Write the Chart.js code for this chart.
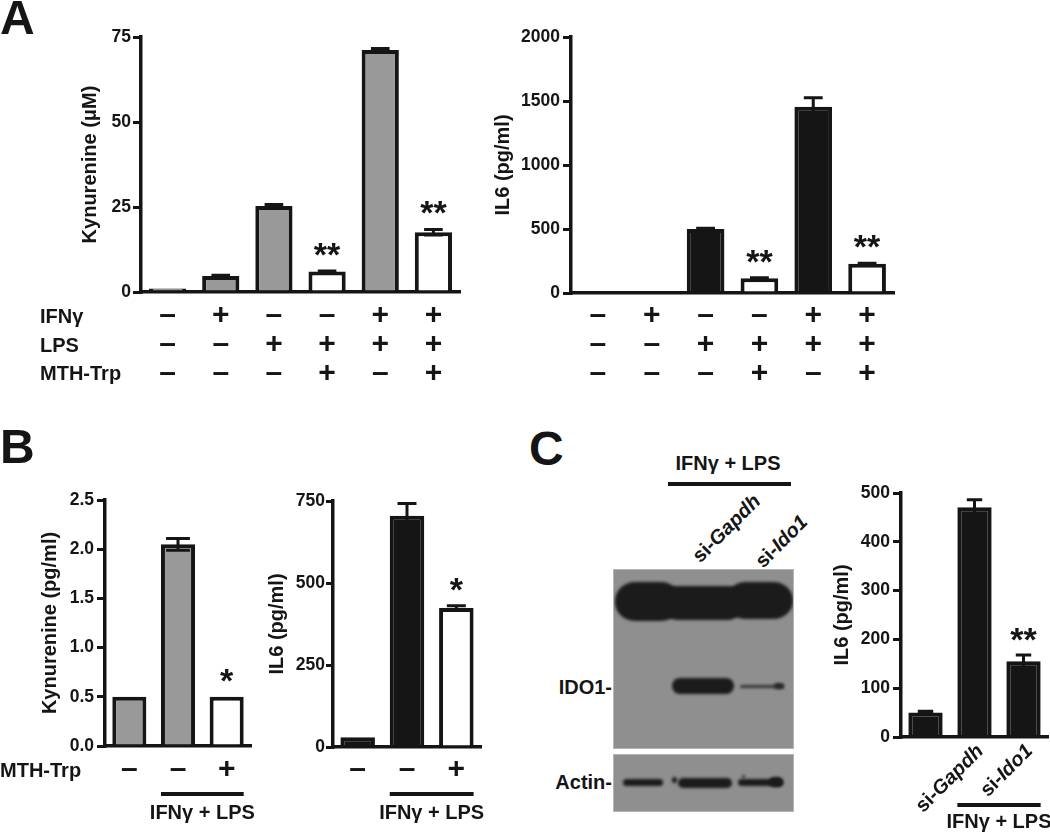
<!DOCTYPE html>
<html><head><meta charset="utf-8">
<script src="https://cdn.jsdelivr.net/npm/chart.js@4.4.1/dist/chart.umd.min.js"></script>
<style>
html,body{margin:0;padding:0;background:#fff}
body{width:1050px;height:837px;position:relative;overflow:hidden;font-family:"Liberation Sans",Arial,sans-serif;font-weight:bold;color:#151515}
canvas{position:absolute}
.t{position:absolute;white-space:nowrap;line-height:1}
.blot{position:absolute;background:#8f8f8f;box-shadow:0 0 0 1px #b5b5b5;overflow:hidden}
.band{position:absolute;background:#1b1b1b;filter:blur(1.4px)}
.hl{position:absolute;background:#151515}
</style></head><body>
<canvas id="a1"></canvas><canvas id="a2"></canvas>
<canvas id="b1"></canvas><canvas id="b2"></canvas>
<canvas id="c1"></canvas>
<div id="html"></div>
<script>
const INK = '#151515';
const GRAY = '#999999';
const WHITE = '#ffffff';

// ---- Panel A data ----
const kynA     = [1.0, 4.7, 25.3, 6.0, 71.2, 17.6];
const kynAErr  = [0, 0.2, 0.4, 0.2, 0.4, 0.8];
const il6A     = [0, 0, 500, 115, 1455, 228];
const il6AErr  = [0, 0, 5, 5, 70, 5];
const starsA   = ['', '', '', '**', '', '**'];
const ifnRow   = ['–', '+', '–', '–', '+', '+'];
const lpsRow   = ['–', '–', '+', '+', '+', '+'];
const mthRowA  = ['–', '–', '–', '+', '–', '+'];
const ticksKynA = [0, 25, 50, 75];
const ticksIl6A = [0, 500, 1000, 1500, 2000];

// ---- Panel B data ----
const kynB     = [0.5, 2.05, 0.5];
const kynBErr  = [0, 0.06, 0];
const il6B     = [30, 705, 424];
const il6BErr  = [0, 37, 7];
const starsB   = ['', '', '*'];
const mthRowB  = ['–', '–', '+'];
const ticksKynB = [0, 0.5, 1.0, 1.5, 2.0, 2.5];
const ticksIl6B = [0, 250, 500, 750];

// ---- Panel C data ----
const il6C     = [50, 471, 155];
const il6CErr  = [3, 15, 13];
const starsC   = ['', '', '**'];
const cLabels  = [['', ''], ['si-', 'Gapdh'], ['si-', 'Ido1']];
const ticksIl6C = [0, 100, 200, 300, 400, 500];
const groupLabel = 'IFNγ + LPS';

Chart.defaults.font.family = '"Liberation Sans", Arial, sans-serif';
Chart.defaults.color = INK;

const annot = {
  id: 'annot',
  afterDatasetsDraw(chart, args, o) {
    const ctx = chart.ctx, ys = chart.scales.y;
    const meta = chart.getDatasetMeta(0), data = chart.data.datasets[0].data;
    const err = o.err || [];
    const bottom = chart.chartArea.bottom;
    ctx.save();
    ctx.strokeStyle = INK; ctx.fillStyle = INK; ctx.lineWidth = 3;
    err.forEach((e, i) => {
      if (!e) return;
      const b = meta.data[i], hw = b.width * o.cap / 2;
      const yt = ys.getPixelForValue(data[i] + e), yb = ys.getPixelForValue(data[i] - e);
      ctx.beginPath();
      ctx.moveTo(b.x, yt); ctx.lineTo(b.x, yb);
      ctx.moveTo(b.x - hw, yt); ctx.lineTo(b.x + hw, yt);
      ctx.moveTo(b.x - hw, yb); ctx.lineTo(b.x + hw, yb);
      ctx.stroke();
    });
    ctx.font = 'bold 34px "Liberation Sans"'; ctx.textAlign = 'center'; ctx.textBaseline = 'alphabetic';
    (o.stars || []).forEach((s, i) => {
      if (!s) return;
      const b = meta.data[i];
      const top = ys.getPixelForValue(data[i] + (err[i] || 0));
      ctx.fillText(s, b.x, top - o.starGap);
    });
    if (o.bracket) {
      const br = o.bracket, a = meta.data[br.from], z = meta.data[br.to];
      const x1 = a.x - a.width / 2, x2 = z.x + z.width / 2;
      ctx.lineWidth = 4;
      ctx.beginPath(); ctx.moveTo(x1, bottom + br.lineY); ctx.lineTo(x2, bottom + br.lineY); ctx.stroke();
      ctx.font = 'bold 20px "Liberation Sans"'; ctx.textBaseline = 'middle'; ctx.textAlign = 'center';
      ctx.fillText(br.text, (x1 + x2) / 2, bottom + br.textY);
    }
    if (o.rot) {
      o.rot.forEach((parts, i) => {
        if (!parts[0] && !parts[1]) return;
        const b = meta.data[i];
        ctx.save();
        ctx.translate(b.x + o.rotDx, bottom + o.rotDy);
        ctx.rotate(-Math.PI / 4);
        ctx.textAlign = 'right'; ctx.textBaseline = 'alphabetic';
        ctx.font = 'italic bold 20px "Liberation Sans"';
        ctx.fillText(parts[1], 0, 0);
        const w = ctx.measureText(parts[1]).width;
        ctx.font = 'bold 20px "Liberation Sans"';
        ctx.fillText(parts[0], -w, 0);
        ctx.restore();
      });
    }
    ctx.restore();
  }
};

function makeChart(id, box, area, cfg) {
  const cv = document.getElementById(id);
  cv.width = box.w; cv.height = box.h;
  cv.style.left = box.l + 'px'; cv.style.top = box.t + 'px';
  const yW = area.L - box.l, xH = box.t + box.h - area.B;
  return new Chart(cv, {
    type: 'bar',
    data: {
      labels: cfg.labels,
      datasets: [{
        data: cfg.data, backgroundColor: cfg.colors, borderColor: INK, borderWidth: 4,
        borderSkipped: 'start', barPercentage: 0.7, categoryPercentage: 1
      }]
    },
    options: {
      responsive: false, animation: false, events: [],
      layout: { padding: { left: 0, top: area.T - box.t, right: box.l + box.w - area.R, bottom: 0 } },
      plugins: { legend: { display: false }, tooltip: { enabled: false }, annot: cfg.annot },
      scales: {
        x: {
          grid: { display: false, drawTicks: false },
          border: { display: true, color: INK, width: 3.5 },
          ticks: {
            display: cfg.xTicks !== false, color: INK,
            font: { size: 30, weight: 'bold', lineHeight: 29 / 30 },
            padding: cfg.xPad || 0, maxRotation: 0, minRotation: 0, autoSkip: false
          },
          afterFit: s => { s.height = xH; }
        },
        y: {
          min: cfg.ticks[0], max: cfg.ticks[cfg.ticks.length - 1],
          afterBuildTicks: s => { s.ticks = cfg.ticks.map(v => ({ value: v })); },
          grid: { display: true, drawOnChartArea: false, drawTicks: true, tickLength: cfg.tl, color: INK, lineWidth: 3 },
          border: { display: true, color: INK, width: 3.5 },
          ticks: { color: INK, font: { size: 17.5, weight: 'bold' }, padding: cfg.yPad, callback: cfg.fmt },
          title: { display: true, text: cfg.title, color: INK, font: { size: 20, weight: 'bold' },
                   padding: { top: Math.max(0, cfg.titleX - box.l - 12), bottom: 0 } },
          afterFit: s => { s.width = yW; }
        }
      }
    },
    plugins: [annot]
  });
}

const intFmt = v => String(v);
const rowsA = ifnRow.map((v, i) => [v, lpsRow[i], mthRowA[i]]);

makeChart('a1', { l: 30, t: 20, w: 450, h: 375 }, { L: 141, T: 37, R: 460, B: 292 }, {
  labels: rowsA, data: kynA,
  colors: [GRAY, GRAY, GRAY, WHITE, GRAY, WHITE],
  ticks: ticksKynA, fmt: intFmt, tl: 8, yPad: 2, xPad: 9.5,
  title: 'Kynurenine (μM)', titleX: 90,
  annot: { err: kynAErr, cap: 0.5, stars: starsA, starGap: 5 }
});
makeChart('a2', { l: 485, t: 20, w: 425, h: 375 }, { L: 571, T: 37, R: 894, B: 293 }, {
  labels: rowsA, data: il6A,
  colors: [INK, INK, INK, WHITE, INK, WHITE],
  ticks: ticksIl6A, fmt: intFmt, tl: 8, yPad: 3, xPad: 8.5,
  title: 'IL6 (pg/ml)', titleX: 503,
  annot: { err: il6AErr, cap: 0.5, stars: starsA, starGap: 5 }
});
makeChart('b1', { l: 0, t: 470, w: 265, h: 367 }, { L: 105, T: 500, R: 251, B: 746 }, {
  labels: mthRowB, data: kynB,
  colors: [GRAY, GRAY, WHITE],
  ticks: ticksKynB, fmt: v => v.toFixed(1), tl: 8, yPad: 3, xPad: 9.5,
  title: 'Kynurenine (pg/ml)', titleX: 50,
  annot: { err: kynBErr, cap: 0.7, stars: starsB, starGap: 5,
           bracket: { from: 1, to: 2, lineY: 48, textY: 67, text: groupLabel } }
});
makeChart('b2', { l: 265, t: 470, w: 225, h: 367 }, { L: 333, T: 501, R: 481, B: 747 }, {
  labels: mthRowB, data: il6B,
  colors: [INK, INK, WHITE],
  ticks: ticksIl6B, fmt: intFmt, tl: 7, yPad: 1, xPad: 8.5,
  title: 'IL6 (pg/ml)', titleX: 277,
  annot: { err: il6BErr, cap: 0.55, stars: starsB, starGap: 5,
           bracket: { from: 1, to: 2, lineY: 47, textY: 66, text: groupLabel } }
});
makeChart('c1', { l: 820, t: 460, w: 230, h: 377 }, { L: 901, T: 493, R: 1048, B: 737 }, {
  labels: cLabels.map(p => p.join('')), data: il6C, xTicks: false,
  colors: [INK, INK, INK],
  ticks: ticksIl6C, fmt: intFmt, tl: 8, yPad: 3,
  title: 'IL6 (pg/ml)', titleX: 842,
  annot: { err: il6CErr, cap: 0.45, stars: starsC, starGap: 4,
           rot: cLabels, rotDx: 10, rotDy: 15,
           bracket: { from: 1, to: 2, lineY: 68, textY: 85, text: groupLabel } }
});

// ---- HTML text and blot ----
const H = document.getElementById('html');
function txt(s, x, y, o = {}) {
  const d = document.createElement('div');
  d.className = 't';
  d.innerHTML = s;
  d.style.fontSize = (o.size || 20) + 'px';
  d.style.left = x + 'px'; d.style.top = y + 'px';
  const tx = o.align === 'center' ? '-50%' : o.align === 'right' ? '-100%' : '0';
  d.style.transform = `translate(${tx},-50%)` + (o.rot ? ` rotate(${o.rot}deg)` : '');
  H.appendChild(d);
}
function box(cls, l, t, w, h, extra) {
  const d = document.createElement('div');
  d.className = cls;
  Object.assign(d.style, { left: l + 'px', top: t + 'px', width: w + 'px', height: h + 'px' }, extra || {});
  H.appendChild(d);
  return d;
}
// panel letters
txt('A', 0, 18, { size: 48 });
txt('B', 0, 447, { size: 48 });
txt('C', 529, 449, { size: 48 });
// row labels
txt('IFNγ', 40, 316);
txt('LPS', 40, 345);
txt('MTH-Trp', 40, 373);
txt('MTH-Trp', 0, 770);
// panel C header
txt(groupLabel, 728, 463, { align: 'center' });
box('hl', 668, 482, 123, 4);
txt('si-<i>Gapdh</i>', 726, 528, { align: 'center', rot: -45 });
txt('si-<i>Ido1</i>', 781, 541, { align: 'center', rot: -45 });
// blot
const up = box('blot', 614, 570, 179, 178);
const lo = box('blot', 614, 755, 179, 56);
function band(parent, l, t, w, h, r, extra) {
  const d = document.createElement('div');
  d.className = 'band';
  Object.assign(d.style, { left: l + 'px', top: t + 'px', width: w + 'px', height: h + 'px', borderRadius: r }, extra || {});
  parent.appendChild(d);
}
// big upper band (relative to upper blot)
band(up, 1, 12, 66, 39, '20px / 19px');
band(up, 50, 16, 78, 34, '14px');
band(up, 112, 12, 67, 37, '20px / 18px');
// IDO1 band
band(up, 58, 108, 62, 16, '8px');
band(up, 126, 115, 44, 3, '2px', { background: '#353535' });
band(up, 160, 113, 10, 6, '3px', { background: '#2a2a2a' });
txt('IDO1-', 612, 687, { align: 'right' });
// actin
band(lo, 9, 24, 40, 7, '4px');
band(lo, 58, 22, 5, 6, '3px');
band(lo, 64, 23, 54, 10, '5px');
band(lo, 124, 24, 45, 7, '4px');
band(lo, 155, 22, 14, 10, '5px');
band(lo, 128, 20, 3, 3, '2px');
txt('Actin-', 612, 782, { align: 'right' });
</script>
</body></html>
